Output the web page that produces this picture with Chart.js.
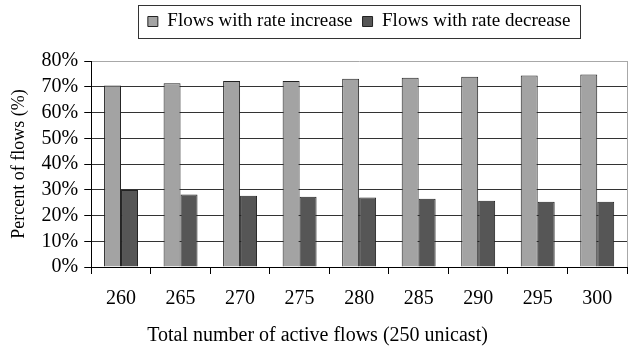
<!DOCTYPE html>
<html>
<head>
<meta charset="utf-8">
<script src="https://cdn.jsdelivr.net/npm/chart.js@4.4.0/dist/chart.umd.js"></script>
<style>
  body { margin: 0; background: #fff; }
  #wrap { width: 644px; height: 350px; }
</style>
</head>
<body>
<div id="wrap"><canvas id="chart" width="644" height="350"></canvas></div>
<script>
// Données
const flowCounts = ['260', '265', '270', '275', '280', '285', '290', '295', '300']
const rateIncrease = [70.5, 71.4, 72.2, 72.2, 73.1, 73.5, 73.9, 74.4, 74.8]
const rateDecrease = [29.9, 28.2, 27.7, 27.3, 27.0, 26.5, 25.7, 25.3, 25.3]
const yTicks = [0, 10, 20, 30, 40, 50, 60, 70, 80]

const serif = '"Liberation Serif", "Times New Roman", serif'

// Espace supplémentaire sous la légende
const legendGapPlugin = {
  id: 'legendGap',
  beforeInit(chart) {
    const fit = chart.legend.fit
    chart.legend.fit = function () {
      fit.call(this)
      this.height += 20
    }
  }
}

// Cadre autour de la légende + bord droit gris de la zone de tracé
const framePlugin = {
  id: 'frame',
  afterDraw(chart) {
    const ctx = chart.ctx
    const area = chart.chartArea
    ctx.save()
    ctx.strokeStyle = '#a8a8a8'
    ctx.lineWidth = 1
    ctx.beginPath()
    ctx.moveTo(Math.round(area.right) + 0.5, area.top)
    ctx.lineTo(Math.round(area.right) + 0.5, area.bottom)
    ctx.stroke()

    const boxes = chart.legend && chart.legend.legendHitBoxes
    if (boxes && boxes.length) {
      const left = Math.min(...boxes.map(b => b.left)) - 10
      const right = Math.max(...boxes.map(b => b.left + b.width)) + 9
      const top = Math.min(...boxes.map(b => b.top)) - 7
      const bottom = Math.max(...boxes.map(b => b.top + b.height)) + 7
      ctx.strokeStyle = '#333'
      ctx.strokeRect(Math.round(left) + 0.5, Math.round(top) + 0.5, Math.round(right - left), Math.round(bottom - top))
    }
    ctx.restore()
  }
}

new Chart(document.getElementById('chart').getContext('2d'), {
  type: 'bar',
  data: {
    labels: flowCounts,
    datasets: [
      {
        label: 'Flows with rate increase',
        data: rateIncrease,
        backgroundColor: '#a3a3a3',
        borderColor: '#222',
        borderWidth: 1
      },
      {
        label: 'Flows with rate decrease',
        data: rateDecrease,
        backgroundColor: '#565656',
        borderColor: '#222',
        borderWidth: 1
      }
    ]
  },
  options: {
    responsive: false,
    animation: false,
    devicePixelRatio: 1,
    layout: { padding: { left: 8, right: 17, top: 2, bottom: 0 } },
    datasets: {
      bar: { categoryPercentage: 0.57, barPercentage: 1.0 }
    },
    plugins: {
      legend: {
        position: 'top',
        fullSize: false,
        labels: {
          color: '#000',
          font: { family: serif, size: 19 },
          boxWidth: 10,
          boxHeight: 10,
          padding: 10
        }
      },
      title: {
        display: true,
        position: 'bottom',
        text: 'Total number of active flows (250 unicast)',
        color: '#000',
        font: { family: serif, size: 20, weight: 'normal' },
        padding: { top: 0, bottom: 2 }
      },
      tooltip: { enabled: false }
    },
    scales: {
      x: {
        offset: true,
        grid: {
          display: true,
          offset: true,
          drawOnChartArea: false,
          tickLength: 7,
          tickColor: '#000'
        },
        border: { color: '#000', width: 1 },
        ticks: {
          color: '#000',
          font: { family: serif, size: 20 },
          padding: 13,
          autoSkip: false,
          maxRotation: 0
        }
      },
      y: {
        min: 0,
        max: 80,
        afterBuildTicks(axis) {
          axis.ticks = yTicks.map(v => ({ value: v }))
        },
        grid: {
          color: ctx => (ctx.tick && ctx.tick.value === 80 ? '#a8a8a8' : '#333'),
          tickLength: 7,
          tickColor: '#000'
        },
        border: { color: '#000', width: 1 },
        ticks: {
          color: '#000',
          font: { family: serif, size: 20 },
          padding: 6,
          autoSkip: false,
          callback: value => value + '%'
        },
        title: {
          display: true,
          text: 'Percent of flows (%)',
          color: '#000',
          font: { family: serif, size: 18 },
          padding: { top: 0, bottom: 6 }
        }
      }
    }
  },
  plugins: [legendGapPlugin, framePlugin]
})
</script>
</body>
</html>
